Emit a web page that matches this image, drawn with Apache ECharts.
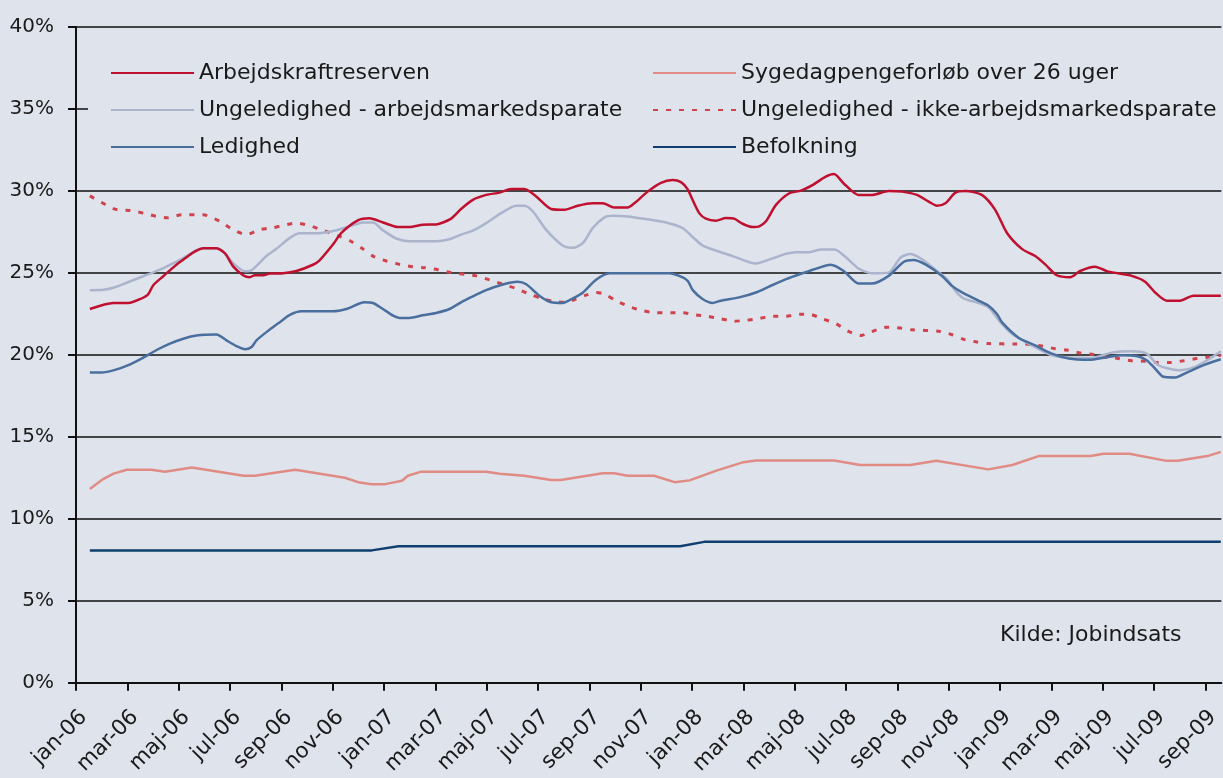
<!DOCTYPE html>
<html>
<head>
<meta charset="utf-8">
<script src="https://cdn.jsdelivr.net/npm/echarts@6/dist/echarts.min.js"></script>
<style>
html,body{margin:0;padding:0;background:#dfe3ec;}
#c{width:1223px;height:778px;}
</style>
</head>
<body>
<div id="c"></div>
<script>
// x positions in months after 1 Jan 2006
const tickLabels = ['jan-06','mar-06','maj-06','jul-06','sep-06','nov-06','jan-07','mar-07','maj-07','jul-07','sep-07','nov-07','jan-08','mar-08','maj-08','jul-08','sep-08','nov-08','jan-09','mar-09','maj-09','jul-09','sep-09'];
const seriesNames = ['Arbejdskraftreserven','Sygedagpengeforløb over 26 uger','Ungeledighed - arbejdsmarkedsparate','Ungeledighed - ikke-arbejdsmarkedsparate','Ledighed','Befolkning'];

const arbMonths = [0.54,1.45,2.04,2.49,2.81,3.01,3.4,4.05,4.95,5.47,5.8,6.12,6.51,6.77,6.96,7.29,7.55,8.07,8.59,9.23,9.49,10.01,10.34,10.98,11.43,11.96,12.54,12.99,13.51,14.03,14.6,15.0,15.46,15.98,16.5,16.95,17.47,17.93,18.51,19.03,19.55,20.13,20.52,20.97,21.49,21.75,22.27,22.79,23.24,23.57,23.83,24.02,24.28,24.54,24.93,25.32,25.64,25.97,26.36,26.62,26.88,27.27,27.79,28.24,28.69,29.21,29.53,29.91,30.49,31.01,31.66,32.18,32.76,33.22,33.54,33.87,34.26,34.65,35.29,35.81,36.27,36.85,37.37,37.76,38.21,38.73,39.12,39.7,40.22,41.13,41.65,42.04,42.49,43.01,43.53,44.6];
const arbValues = [22.8,23.17,23.17,23.4,23.7,24.25,24.8,25.67,26.5,26.5,26.2,25.4,24.86,24.74,24.86,24.86,24.96,24.98,25.12,25.5,25.77,26.73,27.44,28.2,28.33,28.08,27.8,27.8,27.94,27.96,28.3,28.9,29.46,29.76,29.9,30.12,30.12,29.66,28.9,28.85,29.1,29.25,29.25,28.99,28.99,29.25,29.96,30.5,30.67,30.54,30.1,29.46,28.65,28.31,28.19,28.35,28.31,28.0,27.8,27.84,28.15,29.15,29.86,30.02,30.36,30.87,31.03,30.46,29.76,29.76,30.0,29.96,29.76,29.35,29.1,29.25,29.9,30.0,29.76,28.85,27.44,26.47,26.03,25.52,24.86,24.74,25.12,25.38,25.08,24.82,24.46,23.81,23.31,23.31,23.61,23.61];

const sygMonths = [0.54,1.02,1.46,1.98,2.95,3.47,4.51,6.53,6.97,8.54,10.47,10.99,11.51,12.04,12.7,12.93,13.45,15.98,16.5,17.47,18.51,18.88,20.52,20.97,21.49,22.52,23.32,23.9,24.98,26.0,26.5,29.54,30.55,32.5,33.52,35.54,36.48,37.5,39.52,40.03,41.04,42.49,42.92,44.08,44.6];
const sygValues = [11.83,12.39,12.76,13.0,13.0,12.88,13.13,12.63,12.63,13.0,12.51,12.24,12.12,12.12,12.33,12.63,12.88,12.88,12.76,12.63,12.37,12.37,12.78,12.78,12.63,12.63,12.24,12.35,12.96,13.46,13.56,13.56,13.29,13.29,13.54,13.02,13.29,13.83,13.83,13.97,13.97,13.54,13.54,13.83,14.09];

const ungArbMonths = [0.54,1.06,1.45,1.97,2.62,3.27,4.05,4.95,5.47,5.8,6.12,6.58,6.84,7.42,7.81,8.33,8.72,9.49,10.14,10.66,11.18,11.57,11.96,12.48,12.99,14.03,14.55,15.0,15.46,15.98,16.56,17.15,17.47,17.8,18.31,18.96,19.36,19.75,20.13,20.59,20.91,21.49,22.21,22.99,23.63,24.02,24.41,24.8,25.58,26.3,26.49,27.14,27.66,28.05,28.57,29.03,29.55,29.98,30.49,31.01,31.66,32.12,32.5,32.96,33.54,33.93,34.26,34.58,35.16,35.55,36.01,36.46,37.11,38.02,38.67,39.57,40.35,41.13,41.71,42.17,42.95,43.6,44.18,44.6];
const ungArbValues = [23.95,23.97,24.1,24.4,24.8,25.2,25.8,26.5,26.5,26.2,25.6,25.1,25.16,26.03,26.47,27.14,27.42,27.42,27.6,27.84,28.08,28.08,27.6,27.1,26.94,26.94,27.06,27.34,27.58,28.04,28.65,29.1,29.1,28.75,27.64,26.67,26.53,26.83,27.74,28.39,28.49,28.45,28.29,28.08,27.74,27.2,26.67,26.43,26.03,25.62,25.58,25.89,26.17,26.27,26.27,26.43,26.43,25.97,25.26,24.98,25.02,25.93,26.15,25.83,25.12,24.62,23.91,23.45,23.17,22.9,22.0,21.29,20.69,19.98,19.84,19.82,20.14,20.22,20.08,19.37,19.07,19.27,19.78,20.22];

const ungIkkeMonths = [0.54,1.52,2.1,2.62,3.14,3.59,4.11,4.95,5.6,6.12,6.64,7.16,7.68,8.59,9.1,9.62,10.2,10.66,11.11,11.57,12.09,12.61,13.12,13.58,14.1,14.62,15.13,15.59,16.11,16.63,17.15,17.67,18.12,18.57,19.03,19.48,19.87,20.26,20.59,21.04,21.56,22.08,22.6,23.63,24.15,24.6,25.12,25.64,26.03,26.55,27.14,27.66,28.18,28.57,29.08,29.62,30.1,30.6,31.01,31.6,32.18,32.57,33.61,34.13,34.58,35.1,35.55,36.59,37.11,37.63,38.15,38.6,39.12,39.64,40.09,40.61,41.13,41.65,42.17,42.62,43.14,43.66,44.18,44.6];
const ungIkkeValues = [29.7,28.89,28.81,28.65,28.45,28.37,28.55,28.55,28.15,27.64,27.34,27.64,27.76,28.04,27.88,27.6,27.28,26.98,26.53,26.03,25.73,25.52,25.38,25.32,25.2,25.02,24.92,24.82,24.58,24.31,24.05,23.71,23.45,23.27,23.21,23.41,23.65,23.81,23.71,23.31,22.94,22.7,22.58,22.58,22.44,22.36,22.2,22.06,22.1,22.2,22.36,22.36,22.48,22.48,22.2,21.9,21.43,21.19,21.43,21.69,21.63,21.53,21.45,21.23,20.95,20.79,20.69,20.67,20.65,20.54,20.38,20.3,20.12,20.02,19.88,19.78,19.64,19.62,19.54,19.54,19.64,19.78,19.88,19.98];

const ledMonths = [0.54,0.99,1.52,2.04,2.55,3.14,3.66,4.18,4.69,5.47,5.86,6.25,6.58,6.84,7.03,7.55,7.94,8.33,8.78,10.01,10.53,11.24,11.57,11.96,12.35,12.61,12.99,13.51,14.03,14.55,15.0,15.46,15.98,16.56,17.21,17.54,18.05,18.51,18.96,19.36,19.75,20.26,20.78,23.11,23.5,23.83,24.02,24.41,24.8,25.12,25.84,26.49,27.0,27.66,28.3,28.95,29.4,29.91,30.49,31.01,31.66,32.24,32.63,33.09,33.74,34.13,34.52,35.16,35.55,35.88,36.07,36.72,37.37,38.02,38.67,39.45,40.22,40.74,41.32,41.71,42.04,42.36,42.82,43.33,43.98,44.6];
const ledValues = [18.93,18.93,19.09,19.38,19.78,20.3,20.69,20.99,21.19,21.25,20.89,20.54,20.34,20.48,20.89,21.55,22.0,22.44,22.66,22.66,22.8,23.21,23.17,22.8,22.4,22.26,22.26,22.42,22.56,22.8,23.21,23.57,23.95,24.27,24.46,24.31,23.61,23.21,23.17,23.45,23.81,24.58,24.98,24.98,24.82,24.52,23.97,23.41,23.17,23.31,23.51,23.81,24.17,24.62,24.98,25.32,25.5,25.12,24.35,24.35,24.82,25.67,25.79,25.52,24.82,24.21,23.81,23.31,23.0,22.5,22.0,21.05,20.58,20.08,19.78,19.7,19.88,19.98,19.94,19.68,19.17,18.67,18.63,18.97,19.41,19.74];

const befMonths = [0.54,11.52,12.56,23.54,24.47,44.6];
const befValues = [8.08,8.08,8.33,8.33,8.6,8.6];

function pairs(xs, ys){ return xs.map((x,i)=>[x, ys[i]]); }

const chart = echarts.init(document.getElementById('c'), null, {renderer:'canvas'});
const FONT = 'DejaVu Sans';
const BG = '#dfe3ec';
const colors = ['#c0102f','#e08c84','#aab4cc','#d0434c','#4a6f9f','#0f3f6e'];
const sources = [[arbMonths,arbValues],[sygMonths,sygValues],[ungArbMonths,ungArbValues],[ungIkkeMonths,ungIkkeValues],[ledMonths,ledValues],[befMonths,befValues]];
const smoothness = [0.25,0,0.25,0.25,0.25,0];

const series = seriesNames.map((name,i)=>({
  name: name,
  type: 'line',
  xAxisIndex: 0,
  data: pairs(sources[i][0], sources[i][1]),
  symbol: 'none',
  smooth: smoothness[i],
  color: colors[i],
  lineStyle: {
    color: colors[i],
    width: i===3 ? 3 : 2.5,
    type: i===3 ? [5,8] : 'solid',
    cap: 'butt'
  },
  z: [6,3,4,2,5,3][i],
  animation: false
}));

const legendText = {fontFamily: FONT, fontSize: 22, color: '#1a1a1a', lineHeight: 24};
const tickVals = tickLabels.map((t,i)=>i*2);
const X_MAX = 44.62;
const LABEL_SHIFT = 0.3; // label anchor sits a little right of its tick, as in the original

chart.setOption({
  backgroundColor: BG,
  animation: false,
  grid: {left: 76, right: 0, top: 27, bottom: 95},
  legend: [
    {data:[seriesNames[0],seriesNames[2],seriesNames[4]], orient:'vertical', left:110, top:61, padding:0,
     itemWidth:83, itemHeight:14, itemGap:13, textStyle:legendText, selectedMode:false, itemStyle:{opacity:0}},
    {data:[seriesNames[1],seriesNames[3],seriesNames[5]], orient:'vertical', left:652, top:61, padding:0,
     itemWidth:83, itemHeight:14, itemGap:13, textStyle:legendText, selectedMode:false, itemStyle:{opacity:0}}
  ],
  xAxis: [{
    type: 'value',
    min: 0,
    max: X_MAX,
    interval: 2,
    position: 'bottom',
    splitLine: {show:false},
    axisLine: {show:true, onZero:false, lineStyle:{color:'#111', width:2}},
    axisTick: {show:true, length:8, lineStyle:{color:'#111', width:2}, customValues: tickVals},
    axisLabel: {show:false}
  },{
    type: 'value',
    min: -LABEL_SHIFT,
    max: X_MAX - LABEL_SHIFT,
    interval: 2,
    position: 'bottom',
    offset: 0,
    splitLine: {show:false},
    axisLine: {show:false},
    axisTick: {show:false},
    axisLabel: {
      rotate: 45,
      margin: 31,
      fontFamily: FONT,
      fontSize: 21.5,
      color: '#1a1a1a',
      customValues: tickVals,
      formatter: v => {
        const k = Math.round(v/2);
        return (Math.abs(v/2-k) < 1e-6 && tickLabels[k] !== undefined) ? tickLabels[k] : '';
      }
    }
  }],
  yAxis: {
    type: 'value',
    min: 0,
    max: 40,
    interval: 5,
    axisLine: {show:true, lineStyle:{color:'#111', width:2}},
    axisTick: {show:true, length:8, lineStyle:{color:'#111', width:2}},
    splitLine: {show:true, lineStyle:{color:'#111', width:1.6}},
    axisLabel: {formatter:'{value}%', fontFamily: FONT, fontSize: 20, color:'#1a1a1a', margin: 22}
  },
  graphic: [
    {type:'rect', left: 88, top: 40, z: 1, silent: true,
     shape:{width: 1135, height: 130}, style:{fill: BG}},
    {type:'text', left: 1000, top: 624, z: 1,
     style: {text:'Kilde: Jobindsats', fontFamily: FONT, fontSize: 22, fill:'#1a1a1a'}}
  ],
  series: series
});
</script>
</body>
</html>
